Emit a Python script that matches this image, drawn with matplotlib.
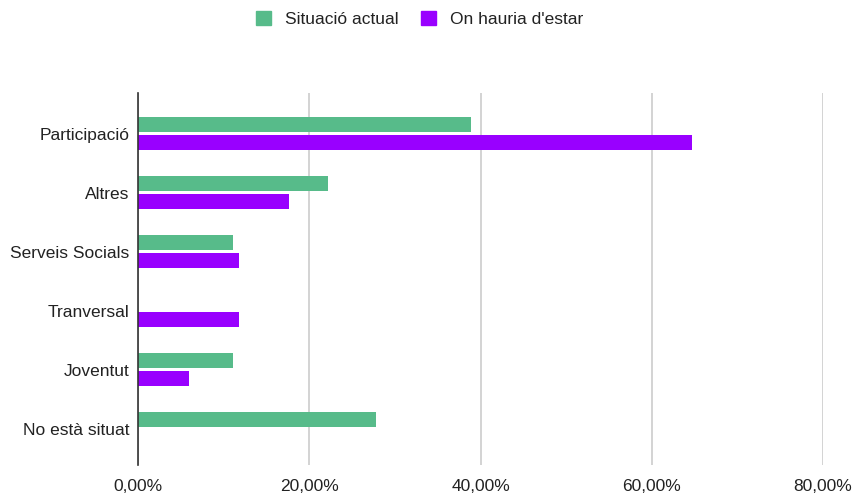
import matplotlib.pyplot as plt
import numpy as np
from matplotlib.patches import Patch
from matplotlib.ticker import FuncFormatter

plt.rcParams['font.family'] = ['Liberation Sans', 'DejaVu Sans']

categories = ['Participació', 'Altres', 'Serveis Socials', 'Tranversal', 'Joventut', 'No està situat']
actual = [38.9, 22.2, 11.1, 0.0, 11.1, 27.8]
desitjat = [64.7, 17.6, 11.8, 11.8, 5.9, 0.0]
series_names = ['Situació actual', "On hauria d'estar"]
colors = ['#57bb8a', '#9900ff']

fig = plt.figure(figsize=(8.56, 4.95), dpi=100)
ax = fig.add_axes([138 / 856, 1 - 465 / 495, (823 - 138) / 856, (465 - 93) / 495])

y = np.arange(len(categories))
h = 0.26
ax.barh(y - 0.16, actual, height=h, color=colors[0], zorder=3)
ax.barh(y + 0.145, desitjat, height=h, color=colors[1], zorder=3)

ax.set_xlim(0, 80)
ax.set_ylim(len(categories) - 1 + 0.61, -0.695)
ax.set_xticks([0, 20, 40, 60, 80])
ax.xaxis.set_major_formatter(FuncFormatter(lambda v, p: f'{v:.2f}%'.replace('.', ',')))
ax.set_yticks(y)
ax.set_yticklabels(categories)
ax.tick_params(axis='both', length=0, labelsize=12.5, colors='#222222')
ax.tick_params(axis='x', pad=10)
ax.tick_params(axis='y', pad=6)

ax.grid(axis='x', color='#cccccc', linewidth=1.2, zorder=0)
for s in ['top', 'right', 'bottom']:
    ax.spines[s].set_visible(False)
ax.spines['left'].set_color('#333333')
ax.spines['left'].set_linewidth(1.2)
ax.spines['left'].set_zorder(4)

handles = [Patch(facecolor=c, edgecolor=c) for c in colors]
fig.legend(handles, series_names, loc='center', bbox_to_anchor=(0.49, 1 - 19 / 495), ncol=2,
           frameon=False, fontsize=12.5, handlelength=0.85, handleheight=0.85,
           columnspacing=1.3, handletextpad=0.8, labelcolor='#222222')

fig.savefig('out.png', dpi=100)
